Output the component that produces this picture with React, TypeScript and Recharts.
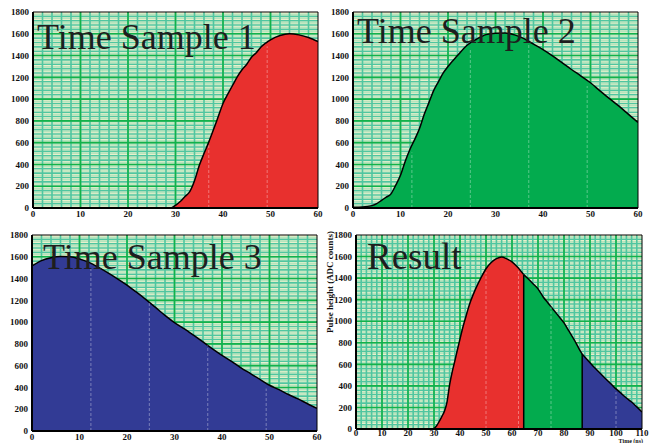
import { ComposedChart, Area, XAxis, YAxis, CartesianGrid, ReferenceLine } from "recharts";

// Pulse (time in ns, height in ADC counts)
const sample1Time = [0, 29, 30, 31, 32, 33, 34, 35, 36, 37, 38, 39, 40, 41, 42, 43, 44, 45, 46, 47, 48, 49, 50, 52, 54, 56, 58, 60];
const sample1Height = [0, 0, 25, 60, 105, 150, 250, 390, 500, 605, 720, 840, 960, 1045, 1125, 1205, 1270, 1320, 1385, 1426, 1478, 1515, 1545, 1585, 1601, 1590, 1566, 1528];

const sample2Time = [0, 2, 4, 5, 6, 7, 8, 9, 10, 11, 12, 13, 14, 15, 16, 17, 18, 19, 20, 22, 24, 26, 28, 30, 32, 34, 36, 38, 40, 42, 44, 46, 48, 50, 52, 54, 56, 58, 60];
const sample2Height = [8, 10, 22, 40, 70, 100, 130, 210, 300, 430, 540, 630, 730, 860, 970, 1080, 1160, 1240, 1300, 1400, 1495, 1550, 1592, 1605, 1606, 1590, 1555, 1505, 1455, 1398, 1335, 1272, 1212, 1150, 1075, 1005, 935, 860, 785];

const sample3Time = [0, 2, 4, 6, 8, 10, 12, 14, 16, 18, 20, 22, 24, 26, 28, 30, 32, 34, 36, 38, 40, 42, 44, 46, 48, 50, 52, 54, 56, 58, 60];
const sample3Height = [1516, 1565, 1592, 1603, 1600, 1580, 1548, 1502, 1452, 1398, 1340, 1275, 1207, 1135, 1062, 995, 940, 880, 818, 755, 695, 640, 580, 527, 474, 420, 380, 335, 295, 250, 208];

const resultTime = [0, 29, 30, 31, 32, 33, 34, 35, 36, 37, 38, 39, 40, 41, 42, 43, 44, 46, 48, 50, 52, 54, 56, 58, 60, 62, 64.5, 66, 68, 70, 72, 74, 76, 78, 80, 82, 84, 86, 87, 88, 90, 92, 94, 96, 98, 100, 102, 104, 106, 108, 110];
const resultHeight = [0, 0, 5, 30, 70, 115, 165, 250, 410, 530, 630, 735, 835, 935, 1020, 1105, 1180, 1300, 1400, 1487, 1545, 1580, 1596, 1578, 1550, 1505, 1432, 1398, 1350, 1300, 1225, 1165, 1105, 1045, 985, 905, 825, 735, 695, 668, 615, 563, 515, 467, 420, 372, 330, 288, 250, 205, 158];
const resultSplits = [64.5, 87];

const yTicks = [0, 200, 400, 600, 800, 1000, 1200, 1400, 1600, 1800];
const sampleTicks = [0, 10, 20, 30, 40, 50, 60];
const resultTicks = [0, 10, 20, 30, 40, 50, 60, 70, 80, 90, 100, 110];
const sampleMarks = [12.4, 24.7, 37, 49.3];
const resultMarks = [50, 62.5, 75, 100];

const RED = "#e8302e";
const GREEN = "#03ab4e";
const BLUE = "#323b95";
const Y_MAX = 1800;

const range = (start: number, end: number, step: number) => {
  const out: number[] = [];
  for (let v = start; v <= end + 1e-9; v += step) out.push(v);
  return out;
};

const tickStyle = { fontFamily: "Liberation Serif", fontWeight: 700, fontSize: 9, fill: "#111" };

// grid line positions go through the axis scale (plot offset as a fallback)
const applyScale = (s: any, v: number) => {
  if (typeof s === "function") return s(v);
  if (s && typeof s.map === "function") return s.map(v);
  return undefined;
};

const genY = (values: number[]) => (props: any) => {
  const s = props?.yAxis?.scale;
  const o = props?.offset;
  return values.map((v) => {
    const p = applyScale(s, v);
    if (typeof p === "number" && !isNaN(p)) return p;
    return o.top + o.height * (1 - v / Y_MAX);
  });
};

const genX = (values: number[], xMax: number) => (props: any) => {
  const s = props?.xAxis?.scale;
  const o = props?.offset;
  return values.map((v) => {
    const p = applyScale(s, v);
    if (typeof p === "number" && !isNaN(p)) return p;
    return o.left + (o.width * v) / xMax;
  });
};

function Grid({ xMax }: { xMax: number }) {
  const yStripe = range(20, 1780, 40);
  const yMinor = range(40, 1760, 40);
  const yMajor = range(200, 1600, 200);
  const xMinor = range(2, xMax - 2, 2);
  const xMajor = range(10, xMax - 10, 10);
  return [
    <CartesianGrid
      key="g1"
      fill="#f8f4d2"
      fillOpacity={1}
      stroke="#b6e4bc"
      strokeWidth={1.6}
      vertical={false}
      horizontalCoordinatesGenerator={genY(yStripe)}
    />,
    <CartesianGrid
      key="g2"
      stroke="#4fc6a0"
      strokeWidth={1.6}
      horizontalCoordinatesGenerator={genY(yMinor)}
      verticalCoordinatesGenerator={genX(xMinor, xMax)}
    />,
    <CartesianGrid
      key="g3"
      stroke="#12b24a"
      strokeWidth={1.6}
      horizontalCoordinatesGenerator={genY(yMajor)}
      verticalCoordinatesGenerator={genX(xMajor, xMax)}
    />,
  ];
}

interface PanelProps {
  left: number;
  top: number;
  height?: number;
  tickGap?: number;
  yWidth: number;
  right: number;
  xMax: number;
  xTicks: number[];
  rows: any[];
  marks: number[];
  marksTop: number[];
  children: any;
}

function Panel({ left, top, height = 225, tickGap = 3, yWidth, right, xMax, xTicks, rows, marks, marksTop, children }: PanelProps) {
  return (
    <div style={{ position: "absolute", left, top }}>
      <ComposedChart width={330} height={height} data={rows} margin={{ top: 12, right, bottom: 0, left: 0 }}>
        {Grid({ xMax })}
        <XAxis
          dataKey="t"
          type="number"
          domain={[0, xMax]}
          ticks={xTicks}
          interval={0}
          allowDataOverflow
          height={17}
          tickSize={0}
          tickMargin={tickGap}
          tick={tickStyle}
          axisLine={{ stroke: "#000", strokeWidth: 2 }}
          tickLine={false}
        />
        <YAxis
          type="number"
          domain={[0, Y_MAX]}
          ticks={yTicks}
          interval={0}
          width={yWidth}
          tickSize={0}
          tickMargin={4}
          tick={tickStyle}
          axisLine={{ stroke: "#000", strokeWidth: 2 }}
          tickLine={false}
        />
        {children}
        {marks.map((m, i) => (
          <ReferenceLine
            key={"m" + m}
            segment={[{ x: m, y: 0 }, { x: m, y: marksTop[i] }]}
            stroke="#ffffff"
            strokeOpacity={0.35}
            strokeDasharray="3 2"
          />
        ))}
        <ReferenceLine y={Y_MAX} stroke="#000" strokeWidth={1} />
        <ReferenceLine x={xMax} stroke="#000" strokeWidth={1} />
      </ComposedChart>
    </div>
  );
}

const toRows = (time: number[], height: number[]) => time.map((t, i) => ({ t, h: height[i] }));

// height at the nearest sampled time, kept a little under the curve
const under = (time: number[], height: number[], m: number) => {
  let best = 0;
  time.forEach((t, i) => {
    if (Math.abs(t - m) < Math.abs(time[best] - m)) best = i;
  });
  return Math.max(0, height[best] - 30);
};

export default function App() {
  const resultRows = resultTime.map((t, i) => ({
    t,
    red: t <= resultSplits[0] ? resultHeight[i] : null,
    green: t >= resultSplits[0] && t <= resultSplits[1] ? resultHeight[i] : null,
    blue: t >= resultSplits[1] ? resultHeight[i] : null,
  }));
  const areaProps = {
    type: "monotone" as const,
    stroke: "#000",
    strokeWidth: 1.5,
    fillOpacity: 1,
    dot: false,
    activeDot: false,
    isAnimationActive: false,
  };
  const titleStyle = { fontFamily: "Liberation Serif", fontSize: 36, fill: "#1e1e1e" };
  const s1Visible = sampleMarks.filter((m) => m > 30);

  return (
    <div style={{ position: "absolute", left: 0, top: 0, width: 649, height: 443, background: "#fff", overflow: "hidden" }}>
      <Panel
        left={0}
        top={0}
        yWidth={33}
        right={12}
        xMax={60}
        xTicks={sampleTicks}
        rows={toRows(sample1Time, sample1Height)}
        marks={s1Visible}
        marksTop={s1Visible.map((m) => under(sample1Time, sample1Height, m))}
      >
        <Area dataKey="h" fill={RED} {...areaProps} />
      </Panel>
      <Panel
        left={320}
        top={0}
        yWidth={33}
        right={12}
        xMax={60}
        xTicks={sampleTicks}
        rows={toRows(sample2Time, sample2Height)}
        marks={sampleMarks}
        marksTop={sampleMarks.map((m) => under(sample2Time, sample2Height, m))}
      >
        <Area dataKey="h" fill={GREEN} {...areaProps} />
      </Panel>
      <Panel
        left={0}
        top={223}
        yWidth={32}
        right={13}
        xMax={60}
        xTicks={sampleTicks}
        rows={toRows(sample3Time, sample3Height)}
        marks={sampleMarks}
        marksTop={sampleMarks.map((m) => under(sample3Time, sample3Height, m))}
      >
        <Area dataKey="h" fill={BLUE} {...areaProps} />
      </Panel>
      <Panel
        left={320}
        top={223}
        height={223}
        tickGap={1}
        yWidth={36}
        right={8}
        xMax={110}
        xTicks={resultTicks}
        rows={resultRows}
        marks={resultMarks}
        marksTop={resultMarks.map((m) => under(resultTime, resultHeight, m))}
      >
        <Area dataKey="red" fill={RED} {...areaProps} />
        <Area dataKey="green" fill={GREEN} {...areaProps} />
        <Area dataKey="blue" fill={BLUE} {...areaProps} />
        {resultSplits.map((s) => (
          <ReferenceLine
            key={"s" + s}
            segment={[{ x: s, y: 0 }, { x: s, y: resultHeight[resultTime.indexOf(s)] }]}
            stroke="#000"
            strokeWidth={1.5}
          />
        ))}
      </Panel>
      <svg width={649} height={443} style={{ position: "absolute", left: 0, top: 0, pointerEvents: "none" }}>
        <text x={37} y={49} style={titleStyle}>Time Sample 1</text>
        <text x={357} y={43} style={titleStyle}>Time Sample 2</text>
        <text x={43} y={269} style={titleStyle}>Time Sample 3</text>
        <text x={367} y={269} style={{ ...titleStyle, fontSize: 37 }}>Result</text>
        <text
          x={0}
          y={0}
          transform="translate(333 282) rotate(-90)"
          textAnchor="middle"
          style={{ fontFamily: "Liberation Serif", fontWeight: 700, fontSize: 9, fill: "#111" }}
        >
          Pulse height (ADC counts)
        </text>
        <text x={643} y={442.5} textAnchor="end" style={{ fontFamily: "Liberation Serif", fontWeight: 700, fontSize: 6, fill: "#111" }}>
          Time (ns)
        </text>
      </svg>
    </div>
  );
}
